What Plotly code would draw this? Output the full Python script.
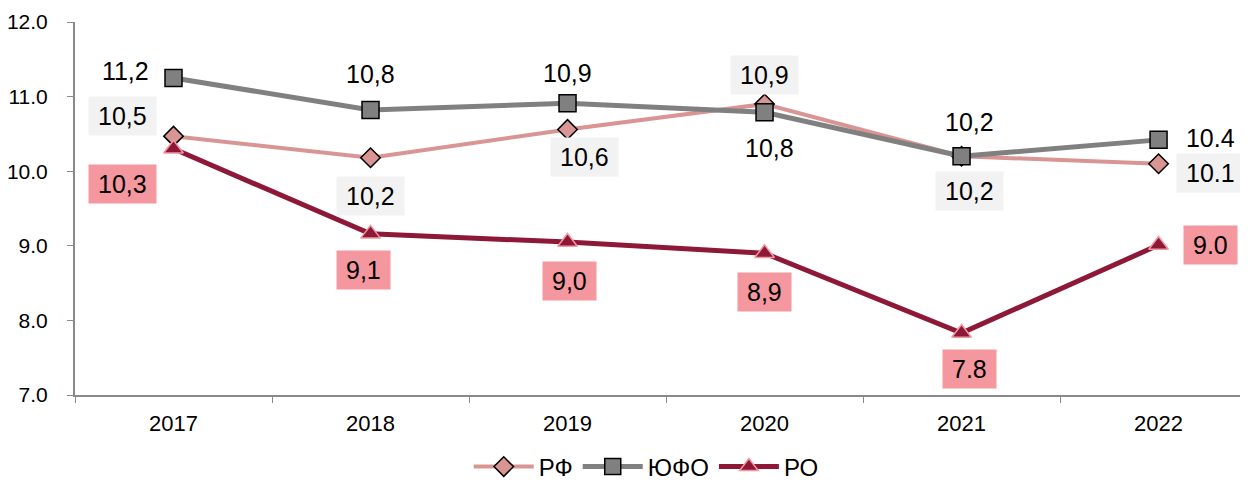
import plotly.graph_objects as go

# Данные
years = ["2017", "2018", "2019", "2020", "2021", "2022"]
rf = [10.47, 10.18, 10.56, 10.90, 10.20, 10.10]
yufo = [11.25, 10.82, 10.91, 10.79, 10.20, 10.42]
ro = [10.30, 9.16, 9.05, 8.90, 7.83, 9.01]
rf_labels = ["10,5", "10,2", "10,6", "10,9", "10,2", "10.1"]
yufo_labels = ["11,2", "10,8", "10,9", "10,8", "10,2", "10.4"]
ro_labels = ["10,3", "9,1", "9,0", "8,9", "7.8", "9.0"]

# Сдвиги подписей (пиксели)
rf_shift = [(-51, 20), (0, -38), (17, -28), (0, 29), (8, -35), (52, -9)]
yufo_shift = [(-48, 7), (0, 36), (0, 30), (5, -36), (8, 34), (52, 2)]
ro_shift = [(-51, -35), (-7, -36), (2, -39), (0, -39), (8, -36), (52, 0)]

FONT = "Liberation Sans, Arial, sans-serif"
LBL = 25


def text_w(t):
    # примерная ширина текста в пикселях
    return sum(0.278 * LBL if c in ",." else 0.556 * LBL for c in t)


fig = go.Figure()
fig.add_trace(go.Scatter(
    x=years, y=rf, name="РФ", mode="lines+markers",
    line=dict(color="#d99594", width=4),
    marker=dict(symbol="diamond", size=15, color="#d99594", line=dict(color="black", width=1.5))))
fig.add_trace(go.Scatter(
    x=years, y=yufo, name="ЮФО", mode="lines+markers",
    line=dict(color="#808080", width=5),
    marker=dict(symbol="square", size=17, color="#808080", line=dict(color="black", width=1.5))))
fig.add_trace(go.Scatter(
    x=years, y=ro, name="РО", mode="lines+markers",
    line=dict(color="#8e1838", width=5),
    marker=dict(symbol="triangle-up", size=17, color="#8e1838", line=dict(color="#f4979f", width=1.5))))

# подписи значений
for vals, labels, shifts, bg in [
    (rf, rf_labels, rf_shift, "#f2f2f2"),
    (yufo, yufo_labels, yufo_shift, None),
    (ro, ro_labels, ro_shift, "#f4979f"),
]:
    for i, (y, t, (dx, dy)) in enumerate(zip(vals, labels, shifts)):
        ann = dict(x=i, y=y, xref="x", yref="y", text=t, showarrow=False,
                   xshift=dx, yshift=dy, borderpad=5, width=text_w(t) + 8,
                   font=dict(family=FONT, size=LBL, color="black"))
        if bg:
            ann["bgcolor"] = bg
        fig.add_annotation(**ann)

# отступ body 8px -> фигура на 8px меньше окна, без автоувеличения полей
fig.update_layout(
    width=1240, height=474,
    margin=dict(l=67, r=0, t=14, b=87, autoexpand=False),
    paper_bgcolor="white", plot_bgcolor="white",
    font=dict(family=FONT, color="black"),
    showlegend=True,
    legend=dict(orientation="h", x=0.487, xanchor="center", y=-0.193, yanchor="middle",
                font=dict(size=24), itemwidth=60),
    xaxis=dict(type="category", range=[-0.5, 5.454], showline=True, linecolor="#898989", linewidth=2,
               ticks="outside", tickson="boundaries", ticklen=6, tickcolor="#898989",
               tickfont=dict(size=22), showgrid=False, zeroline=False, ticklabelstandoff=8),
    yaxis=dict(range=[7, 12], dtick=1, tickformat=".1f", showline=True, linecolor="#898989",
               linewidth=2, ticks="outside", ticklen=6, tickcolor="#898989",
               tickfont=dict(size=21), showgrid=False, zeroline=False, ticklabelstandoff=15),
)

fig.write_html("out.html")
